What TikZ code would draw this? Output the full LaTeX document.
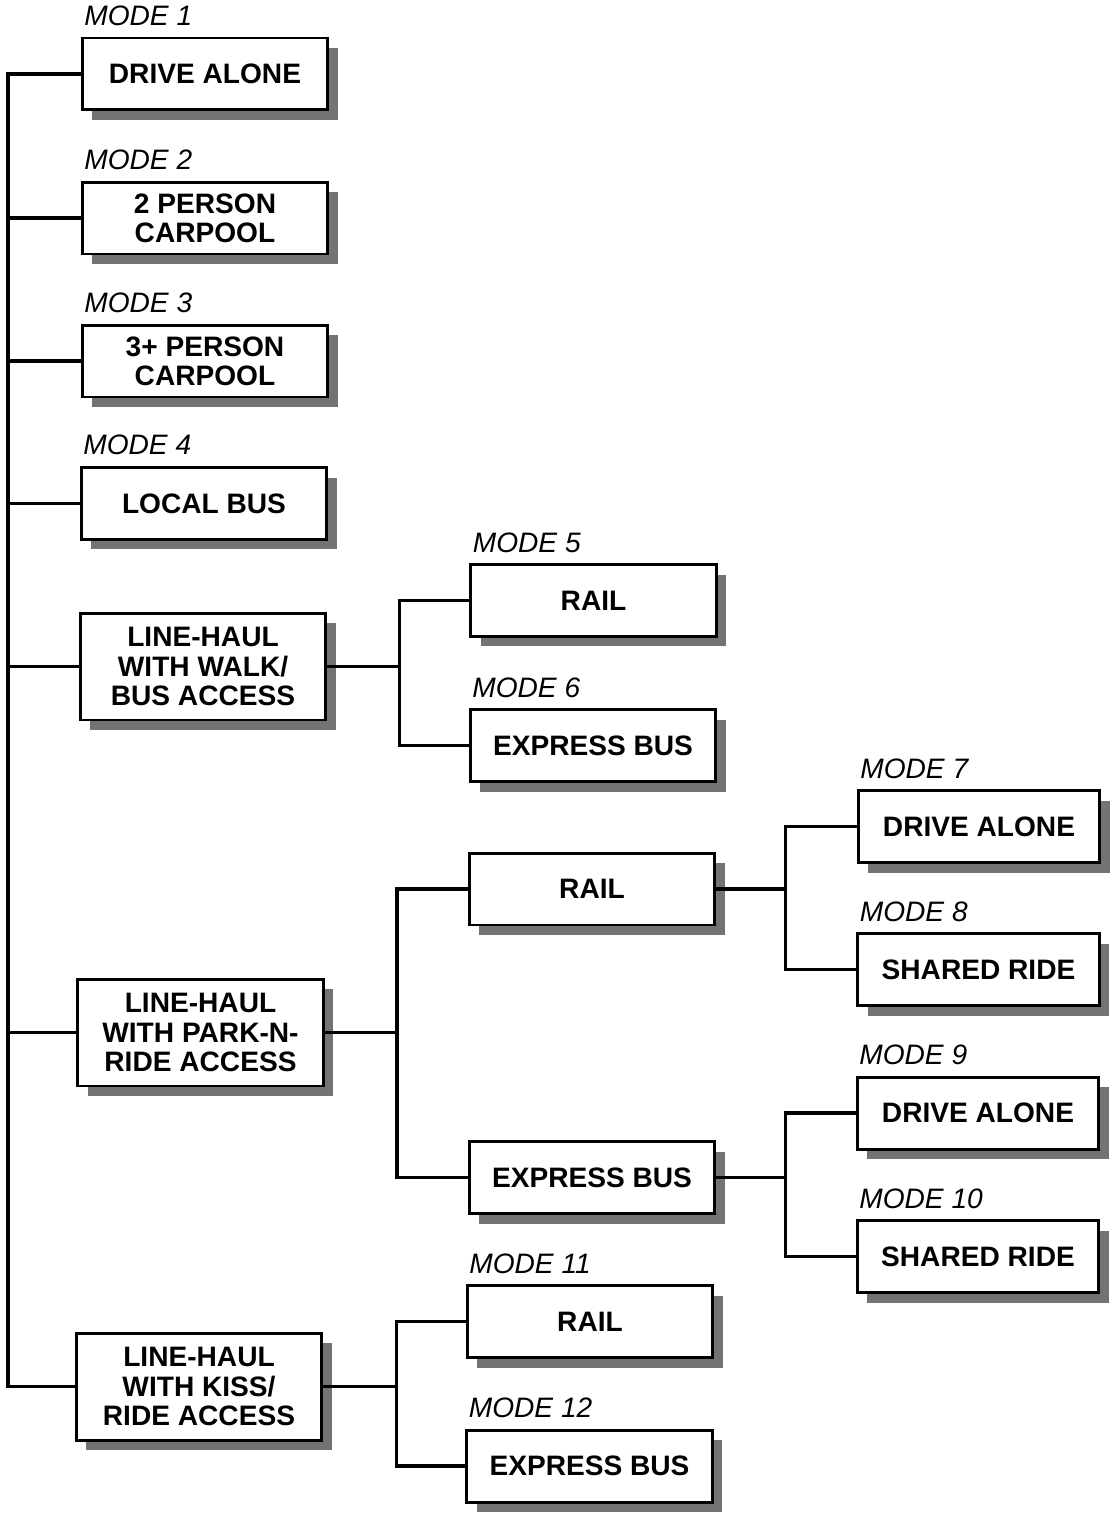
\documentclass[tikz,border=0pt]{standalone}
\usepackage{fontspec}
\setmainfont{Liberation Sans}
\usepackage{tikz}
\usetikzlibrary{shadows}

\tikzset{
  box/.style={draw, line width=1.7pt, fill=white, align=center, inner sep=0pt,
    minimum width=4.92cm, minimum height=1.44cm,
    font=\bfseries\fontsize{16}{16.6}\selectfont,
    drop shadow={shadow xshift=0.2cm, shadow yshift=-0.2cm, fill=black!55, opacity=1}},
  tallbox/.style={box, minimum height=2.14cm},
  smallbox/.style={box, minimum width=4.84cm},
  mode/.style={anchor=base west, inner sep=0pt, font=\itshape\fontsize{16}{16}\selectfont},
  link/.style={line width=1.8pt}
}

\begin{document}
\begin{tikzpicture}[x=0.02cm, y=-0.02cm]
\useasboundingbox (0,0) rectangle (1110,1514);

\node [box] (da) at (205,74) {DRIVE ALONE};
\node [box] (cp2) at (205,218) {2 PERSON\\CARPOOL};
\node [box] (cp3) at (205,361) {3+ PERSON\\CARPOOL};
\node [box] (lb) at (204,503.5) {LOCAL BUS};
\node [tallbox] (walk) at (203,666.5) {LINE-HAUL\\WITH WALK/\\BUS ACCESS};
\node [tallbox] (park) at (200.5,1032.5) {LINE-HAUL\\WITH PARK-N-\\RIDE ACCESS};
\node [tallbox] (kiss) at (199,1386.5) {LINE-HAUL\\WITH KISS/\\RIDE ACCESS};

\node [box] (wrail) at (593.5,600.5) {RAIL};
\node [box] (wexp) at (593,745.5) {EXPRESS BUS};
\node [box] (prail) at (592,889) {RAIL};
\node [box] (pexp) at (592,1177.5) {EXPRESS BUS};
\node [box] (krail) at (590,1321.5) {RAIL};
\node [box] (kexp) at (589.5,1466) {EXPRESS BUS};

\node [smallbox] (rda) at (979,826.5) {DRIVE ALONE};
\node [smallbox] (rsr) at (978.5,969.5) {SHARED RIDE};
\node [smallbox] (eda) at (978,1113) {DRIVE ALONE};
\node [smallbox] (esr) at (978,1256.5) {SHARED RIDE};

\node [mode] at ([shift={(2pt,6.5pt)}]da.north west) {MODE 1};
\node [mode] at ([shift={(2pt,6.5pt)}]cp2.north west) {MODE 2};
\node [mode] at ([shift={(2pt,6.5pt)}]cp3.north west) {MODE 3};
\node [mode] at ([shift={(2pt,6.5pt)}]lb.north west) {MODE 4};
\node [mode] at ([shift={(2pt,6pt)}]wrail.north west) {MODE 5};
\node [mode] at ([shift={(2pt,6pt)}]wexp.north west) {MODE 6};
\node [mode] at ([shift={(2pt,6pt)}]rda.north west) {MODE 7};
\node [mode] at ([shift={(2pt,6pt)}]rsr.north west) {MODE 8};
\node [mode] at ([shift={(2pt,6pt)}]eda.north west) {MODE 9};
\node [mode] at ([shift={(2pt,6pt)}]esr.north west) {MODE 10};
\node [mode] at ([shift={(2pt,6pt)}]krail.north west) {MODE 11};
\node [mode] at ([shift={(2pt,6pt)}]kexp.north west) {MODE 12};

\coordinate (top) at (8,74);
\draw [link] (da.west) -- (top) -- (top |- kiss.west) -- (kiss.west);
\foreach \n in {cp2,cp3,lb,walk,park}
  \draw [link] (\n.west) -- (\n.west -| top);

\draw [link] (walk.east) -- ++(72,0) coordinate (wf);
\draw [link] (wrail.west) -| (wf) |- (wexp.west);
\draw [link] (park.east) -- ++(72,0) coordinate (pf);
\draw [link] (prail.west) -| (pf) |- (pexp.west);
\draw [link] (kiss.east) -- ++(73,0) coordinate (kf);
\draw [link] (krail.west) -| (kf) |- (kexp.west);
\draw [link] (prail.east) -- ++(69,0) coordinate (rf);
\draw [link] (rda.west) -| (rf) |- (rsr.west);
\draw [link] (pexp.east) -- ++(69,0) coordinate (ef);
\draw [link] (eda.west) -| (ef) |- (esr.west);
\end{tikzpicture}
\end{document}
